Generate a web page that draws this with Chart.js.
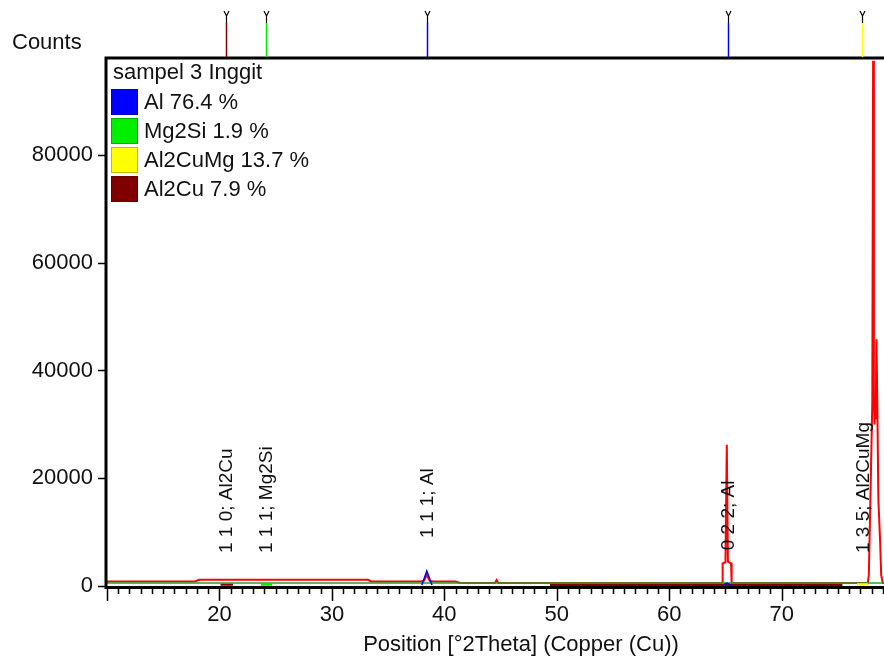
<!DOCTYPE html>
<html lang="en">
  <head>
    <meta charset="utf-8" />
    <title>XRD sampel 3 Inggit</title>
    <style>
      * {
        margin: 0;
        padding: 0;
      }
      body {
        background: #fff;
      }
    </style>
  </head>
  <body>
    <canvas id="myChart" width="884" height="658"></canvas>
    <script src="https://cdn.jsdelivr.net/npm/chart.js"></script>
    <script>
      // setup
      const legendTitle = "sampel 3 Inggit";
      const phaseNames = ["Al", "Mg2Si", "Al2CuMg", "Al2Cu"];
      const phasePercent = ["76.4", "1.9", "13.7", "7.9"];
      const phaseColors = ["#0000ff", "#00ee00", "#ffff00", "#800000"];

      const xTicks = [20, 30, 40, 50, 60, 70];
      const yTicks = [0, 20000, 40000, 60000, 80000];

      // measured scan (red)
      const measuredPos = [
        10.0, 12.3, 13.0, 17.8, 18.2, 20.0, 25.0, 30.0, 33.2, 33.5, 36.0, 37.9,
        38.2, 38.35, 38.44, 38.55, 38.7, 39.0, 41.0, 41.4, 44.5, 44.65, 44.8,
        64.7, 64.75, 65.0, 65.12, 65.22, 65.5, 65.55, 77.66, 77.75, 77.88,
        78.06, 78.13, 78.2, 78.26, 78.3, 78.36, 78.43, 78.5, 78.6, 78.76,
        78.85, 78.99, 79.1,
      ];
      const measuredCounts = [
        840, 850, 830, 850, 1170, 1170, 1180, 1170, 1160, 850, 830, 850, 1000,
        1700, 2100, 1600, 950, 850, 830, 560, 560, 1100, 560, 560, 4200, 4400,
        26200, 4500, 4200, 560, 560, 2000, 15000, 34000, 97500, 35000, 30000,
        35000, 31000, 45800, 35000, 16000, 8000, 2000, 560, 560,
      ];

      // background (green)
      const bgPos = [10, 79.1];
      const bgCounts = [560, 560];

      // phase profiles (null = gap)
      const alPos = [38.0, 38.44, 38.9, 39.0, 64.8, 65.12, 65.5];
      const alCounts = [200, 2800, 200, null, 200, 550, 200];
      const mg2siPos = [23.7, 24.15, 24.7];
      const mg2siCounts = [260, 280, 260];
      const al2cumgPos = [76.7, 77.18, 77.7];
      const al2cumgCounts = [260, 290, 260];
      const al2cuPos = [20.1, 20.6, 21.2, 21.3, 49.4, 75.4];
      const al2cuCounts = [220, 240, 220, null, 190, 190];

      // reference markers
      const markerPos = [20.6, 24.15, 38.44, 65.2, 77.18];
      const markerPhase = [3, 1, 0, 0, 2];
      const markerIntensity = [0, 0, 2800, 500, 0];
      const markerLabels = [
        "1 1 0; Al2Cu",
        "1 1 1; Mg2Si",
        "1 1 1; Al",
        "0 2 2; Al",
        "1 3 5; Al2CuMg",
      ];

      const pts = (xs, ys) => xs.map((v, i) => ({ x: v, y: ys[i] }));
      const FONT = "'Liberation Sans', Arial, sans-serif";

      const data = {
        datasets: [
          {
            label: "Al",
            data: pts(alPos, alCounts),
            borderColor: phaseColors[0],
            borderWidth: 1.5,
            order: 0,
          },
          {
            label: "Mg2Si",
            data: pts(mg2siPos, mg2siCounts),
            borderColor: phaseColors[1],
            borderWidth: 2.5,
            order: 0,
          },
          {
            label: "Al2CuMg",
            data: pts(al2cumgPos, al2cumgCounts),
            borderColor: phaseColors[2],
            borderWidth: 2.5,
            order: 0,
          },
          {
            label: "Al2Cu",
            data: pts(al2cuPos, al2cuCounts),
            borderColor: phaseColors[3],
            borderWidth: 2,
            order: 1,
          },
          {
            label: "Background",
            data: pts(bgPos, bgCounts),
            borderColor: "#2f9a2f",
            borderWidth: 1.6,
            order: 2,
          },
          {
            label: "sampel 3 Inggit",
            data: pts(measuredPos, measuredCounts),
            borderColor: "#ff0000",
            borderWidth: 2,
            order: 3,
          },
        ],
      };

      // decorations: frame, ticks, markers, labels, legend
      const xrdDecor = {
        id: "xrdDecor",
        afterDraw(chart) {
          const { ctx, chartArea: area, scales: { x, y } } = chart;
          ctx.save();

          // peak labels
          ctx.fillStyle = "#111";
          ctx.font = "19px " + FONT;
          ctx.textAlign = "left";
          ctx.textBaseline = "middle";
          markerPos.forEach((p, i) => {
            const px = x.getPixelForValue(p);
            const py = y.getPixelForValue(markerIntensity[i]) - 33;
            ctx.save();
            ctx.translate(px + 1, py);
            ctx.rotate(-Math.PI / 2);
            ctx.fillText(markerLabels[i], 0, 0);
            ctx.restore();
          });

          // frame
          ctx.strokeStyle = "#000";
          ctx.lineWidth = 3;
          ctx.beginPath();
          ctx.moveTo(area.right + 2, area.top);
          ctx.lineTo(area.left - 1, area.top);
          ctx.lineTo(area.left - 1, area.bottom + 1.5);
          ctx.lineTo(area.right + 2, area.bottom + 1.5);
          ctx.stroke();

          // tick marks
          ctx.lineWidth = 1.5;
          ctx.beginPath();
          for (let v = Math.ceil(x.min); v <= x.max; v++) {
            const px = Math.round(x.getPixelForValue(v)) + 0.5;
            const len = v % 10 === 0 ? 13 : 6;
            ctx.moveTo(px, area.bottom + 2);
            ctx.lineTo(px, area.bottom + 2 + len);
          }
          yTicks.forEach((v) => {
            const py = Math.round(y.getPixelForValue(v)) + 0.5;
            ctx.moveTo(area.left - 2, py);
            ctx.lineTo(area.left - 9, py);
          });
          ctx.stroke();

          // reference markers above plot
          markerPos.forEach((p, i) => {
            const px = Math.round(x.getPixelForValue(p)) + 0.5;
            ctx.strokeStyle = "#000";
            ctx.lineWidth = 1.2;
            ctx.beginPath();
            ctx.moveTo(px - 2.5, 11);
            ctx.lineTo(px, 16);
            ctx.lineTo(px + 2.5, 11);
            ctx.moveTo(px, 16);
            ctx.lineTo(px, 23);
            ctx.stroke();
            ctx.strokeStyle = phaseColors[markerPhase[i]];
            ctx.lineWidth = 1.5;
            ctx.beginPath();
            ctx.moveTo(px, 23);
            ctx.lineTo(px, area.top - 1);
            ctx.stroke();
          });

          // y axis title and x axis title
          ctx.fillStyle = "#111";
          ctx.font = "22px " + FONT;
          ctx.textAlign = "left";
          ctx.textBaseline = "middle";
          ctx.fillText("Counts", 12, 43);
          ctx.textAlign = "center";
          ctx.fillText("Position [°2Theta] (Copper (Cu))", 521, 645);

          // legend
          ctx.textAlign = "left";
          ctx.fillText(legendTitle, area.left + 6, 73);
          phaseNames.forEach((name, i) => {
            const cy = 102 + i * 29;
            ctx.fillStyle = phaseColors[i];
            ctx.fillRect(area.left + 4, cy - 13, 27, 26);
            ctx.strokeStyle = "rgba(0,0,0,0.25)";
            ctx.lineWidth = 1;
            ctx.strokeRect(area.left + 4.5, cy - 12.5, 26, 25);
            ctx.fillStyle = "#111";
            ctx.fillText(name + " " + phasePercent[i] + " %", area.left + 37, cy + 1);
          });

          ctx.restore();
        },
      };

      // config
      const config = {
        type: "line",
        data,
        options: {
          responsive: false,
          animation: false,
          devicePixelRatio: 1,
          spanGaps: false,
          elements: {
            point: { radius: 0 },
            line: { tension: 0 },
          },
          layout: { padding: { top: 58, left: 0, right: 0, bottom: 0 } },
          plugins: {
            legend: { display: false },
            tooltip: { enabled: false },
          },
          scales: {
            x: {
              type: "linear",
              min: 10,
              max: 79.1,
              grid: { display: false, drawTicks: false },
              border: { display: false },
              afterBuildTicks: (s) => {
                s.ticks = xTicks.map((v) => ({ value: v }));
              },
              afterFit: (s) => {
                s.height = 72;
              },
              ticks: {
                autoSkip: false,
                maxRotation: 0,
                padding: 16,
                color: "#111",
                font: { family: FONT, size: 22 },
                callback: (v) => String(v),
              },
            },
            y: {
              type: "linear",
              min: 0,
              max: 98000,
              grid: { display: false, drawTicks: false },
              border: { display: false },
              afterBuildTicks: (s) => {
                s.ticks = yTicks.map((v) => ({ value: v }));
              },
              afterFit: (s) => {
                s.width = 107;
              },
              ticks: {
                padding: 14,
                color: "#111",
                font: { family: FONT, size: 22 },
                callback: (v) => String(v),
              },
            },
          },
        },
        plugins: [xrdDecor],
      };

      // render init block
      const myChart = new Chart(document.getElementById("myChart"), config);
    </script>
  </body>
</html>
